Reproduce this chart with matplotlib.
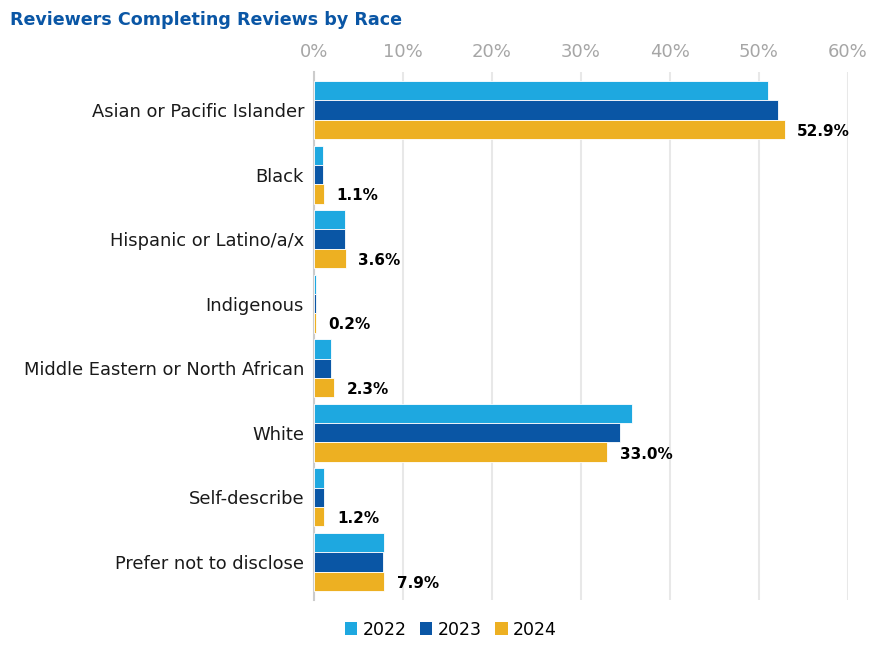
import numpy as np
import matplotlib
matplotlib.use("Agg")
import matplotlib.pyplot as plt
from matplotlib.patches import Patch

plt.rcParams['font.family'] = ['DejaVu Sans']

# Data (percent of reviewers)
categories = ["Asian or Pacific Islander", "Black", "Hispanic or Latino/a/x",
              "Indigenous", "Middle Eastern or North African", "White",
              "Self-describe", "Prefer not to disclose"]
years = ["2022", "2023", "2024"]
vals_2022 = [51.0, 1.0, 3.5, 0.2, 1.9, 35.7, 1.1, 7.9]
vals_2023 = [52.2, 1.0, 3.5, 0.2, 1.9, 34.4, 1.1, 7.8]
vals_2024 = [52.9, 1.1, 3.6, 0.2, 2.3, 33.0, 1.2, 7.9]
xticks = [0, 10, 20, 30, 40, 50, 60]

colors = ["#1EA8E0", "#0A56A5", "#EDB022"]
series = [vals_2022, vals_2023, vals_2024]

fig = plt.figure(figsize=(8.84, 6.6), dpi=100)
ax = fig.add_axes([0.355, 0.091, 0.604, 0.80])

y = np.arange(len(categories))
pitch = 0.30
for i, (vals, col) in enumerate(zip(series, colors)):
    ax.barh(y + (i - 1) * pitch, vals, height=pitch, color=col,
            edgecolor="white", linewidth=0.6, zorder=3)

# value labels for 2024
for yi, v in zip(y, vals_2024):
    ax.text(v + 1.4, yi + pitch + 0.03, f"{v:.1f}%", va="center", ha="left",
            fontsize=11, fontweight="bold", color="black")

ax.set_xlim(0, 60)
ax.set_ylim(len(categories) - 0.41, -0.59)
ax.set_xticks(xticks)
ax.set_xticklabels([f"{t}%" for t in xticks])
ax.xaxis.tick_top()
ax.tick_params(axis="x", length=0, labelsize=13, labelcolor="#A6A6A6", pad=8)
ax.set_yticks(y)
ax.set_yticklabels(categories)
ax.tick_params(axis="y", length=0, labelsize=12.9, labelcolor="#1A1A1A", pad=7)
ax.grid(axis="x", color="#E8E8E8", linewidth=1.5, zorder=0)
for s in ["top", "right", "bottom"]:
    ax.spines[s].set_visible(False)
ax.spines["left"].set_color("#CCCCCC")
ax.spines["left"].set_linewidth(1.5)

fig.text(0.011, 0.97, "Reviewers Completing Reviews by Race", fontsize=12.6,
         fontweight="bold", color="#0A56A5", va="center", ha="left")

handles = [Patch(facecolor=c, label=yr) for c, yr in zip(colors, years)]
fig.legend(handles=handles, loc="center", bbox_to_anchor=(0.51, 0.046),
           ncol=3, frameon=False, fontsize=12.5, handlelength=0.7,
           handleheight=0.7, handletextpad=0.3, columnspacing=0.8)

fig.savefig("out.png", dpi=100)
